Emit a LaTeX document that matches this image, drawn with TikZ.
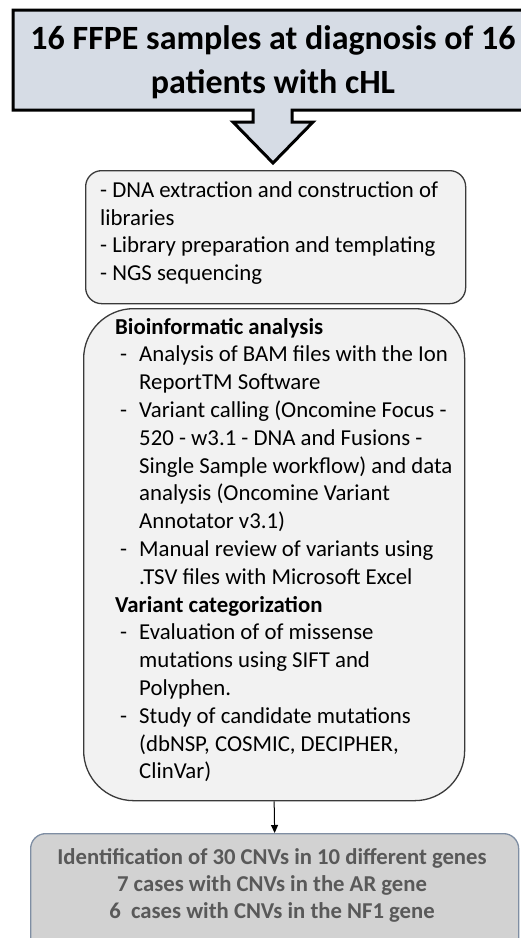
\documentclass[tikz,border=0pt]{standalone}
\usepackage{fontspec}
\setmainfont{Carlito}
\usetikzlibrary{arrows.meta}
\definecolor{titlefill}{HTML}{D6DCE5}
\definecolor{boxfill}{HTML}{F2F2F2}
\definecolor{boxline}{HTML}{3A3A3A}
\definecolor{resfill}{HTML}{D2D2D2}
\definecolor{resline}{HTML}{7F8EA3}
\definecolor{restext}{HTML}{595959}
\newcommand\lidash{\makebox[24pt][l]{\hspace*{5pt}-}}
\newcommand\lind{\hspace*{24pt}}
\begin{document}
\begin{tikzpicture}[x=1pt,y=-1pt,
  stepbox/.style={draw=boxline, line width=1.3pt, fill=boxfill, inner sep=0pt},
  steptext/.style={font=\fontsize{22.8}{27.8}\selectfont, align=left, inner sep=0pt, anchor=west},
  resbox/.style={draw=resline, line width=1.3pt, fill=resfill, rounded corners=15pt, inner sep=0pt},
  restxt/.style={font=\fontsize{22.7}{27}\selectfont\bfseries, text=restext, align=center, inner sep=0pt}]
\useasboundingbox (0,0) rectangle (521,938);
\fill[white] (0,0) rectangle (521,938);
% title callout
\draw[line width=3pt, fill=titlefill, line join=miter]
  (13,10) -- (530,10) -- (530,110) -- (292,110) -- (292,122) -- (313,122)
  -- (273,163) -- (233,122) -- (253,122) -- (253,110) -- (13,110) -- cycle;
\node[font=\fontsize{34}{44}\selectfont\bfseries, align=center, inner sep=0pt] (title) at (273,62)
  {16 FFPE samples at diagnosis of 16\\patients with cHL};
% box 1
\node[stepbox, rounded corners=16pt, minimum width=380pt, minimum height=133pt, anchor=north west] (b1) at (85,170) {};
\node[steptext] (t1) at (100,233) {- DNA extraction and construction of\\libraries\\- Library preparation and templating\\- NGS sequencing};
% box 2
\node[stepbox, rounded corners=50pt, minimum width=381pt, minimum height=492pt, anchor=north west] (b2) at (83,308) {};
\node[steptext] (t2) at (115,550) {\textbf{Bioinformatic analysis}\\
\lidash Analysis of BAM files with the Ion\\
\lind ReportTM Software\\
\lidash Variant calling (Oncomine Focus -\\
\lind 520 - w3.1 - DNA and Fusions -\\
\lind Single Sample workflow) and data\\
\lind analysis (Oncomine Variant\\
\lind Annotator v3.1)\\
\lidash Manual review of variants using\\
\lind .TSV files with Microsoft Excel\\
\textbf{Variant categorization}\\
\lidash Evaluation of of missense\\
\lind mutations using SIFT and\\
\lind Polyphen.\\
\lidash Study of candidate mutations\\
\lind (dbNSP, COSMIC, DECIPHER,\\
\lind ClinVar)};
% result
\node[resbox, minimum width=488pt, minimum height=130pt, anchor=north west] (res) at (30,833) {};
\node[restxt] (rt) at (272,885) {Identification of 30 CNVs in 10 different genes\\7 cases with CNVs in the AR gene\\6\ \ cases with CNVs in the NF1 gene};
\draw[-{Triangle[length=8pt,width=7pt]}, line width=1pt] (b2.south) -- (res.north);
\end{tikzpicture}
\end{document}
